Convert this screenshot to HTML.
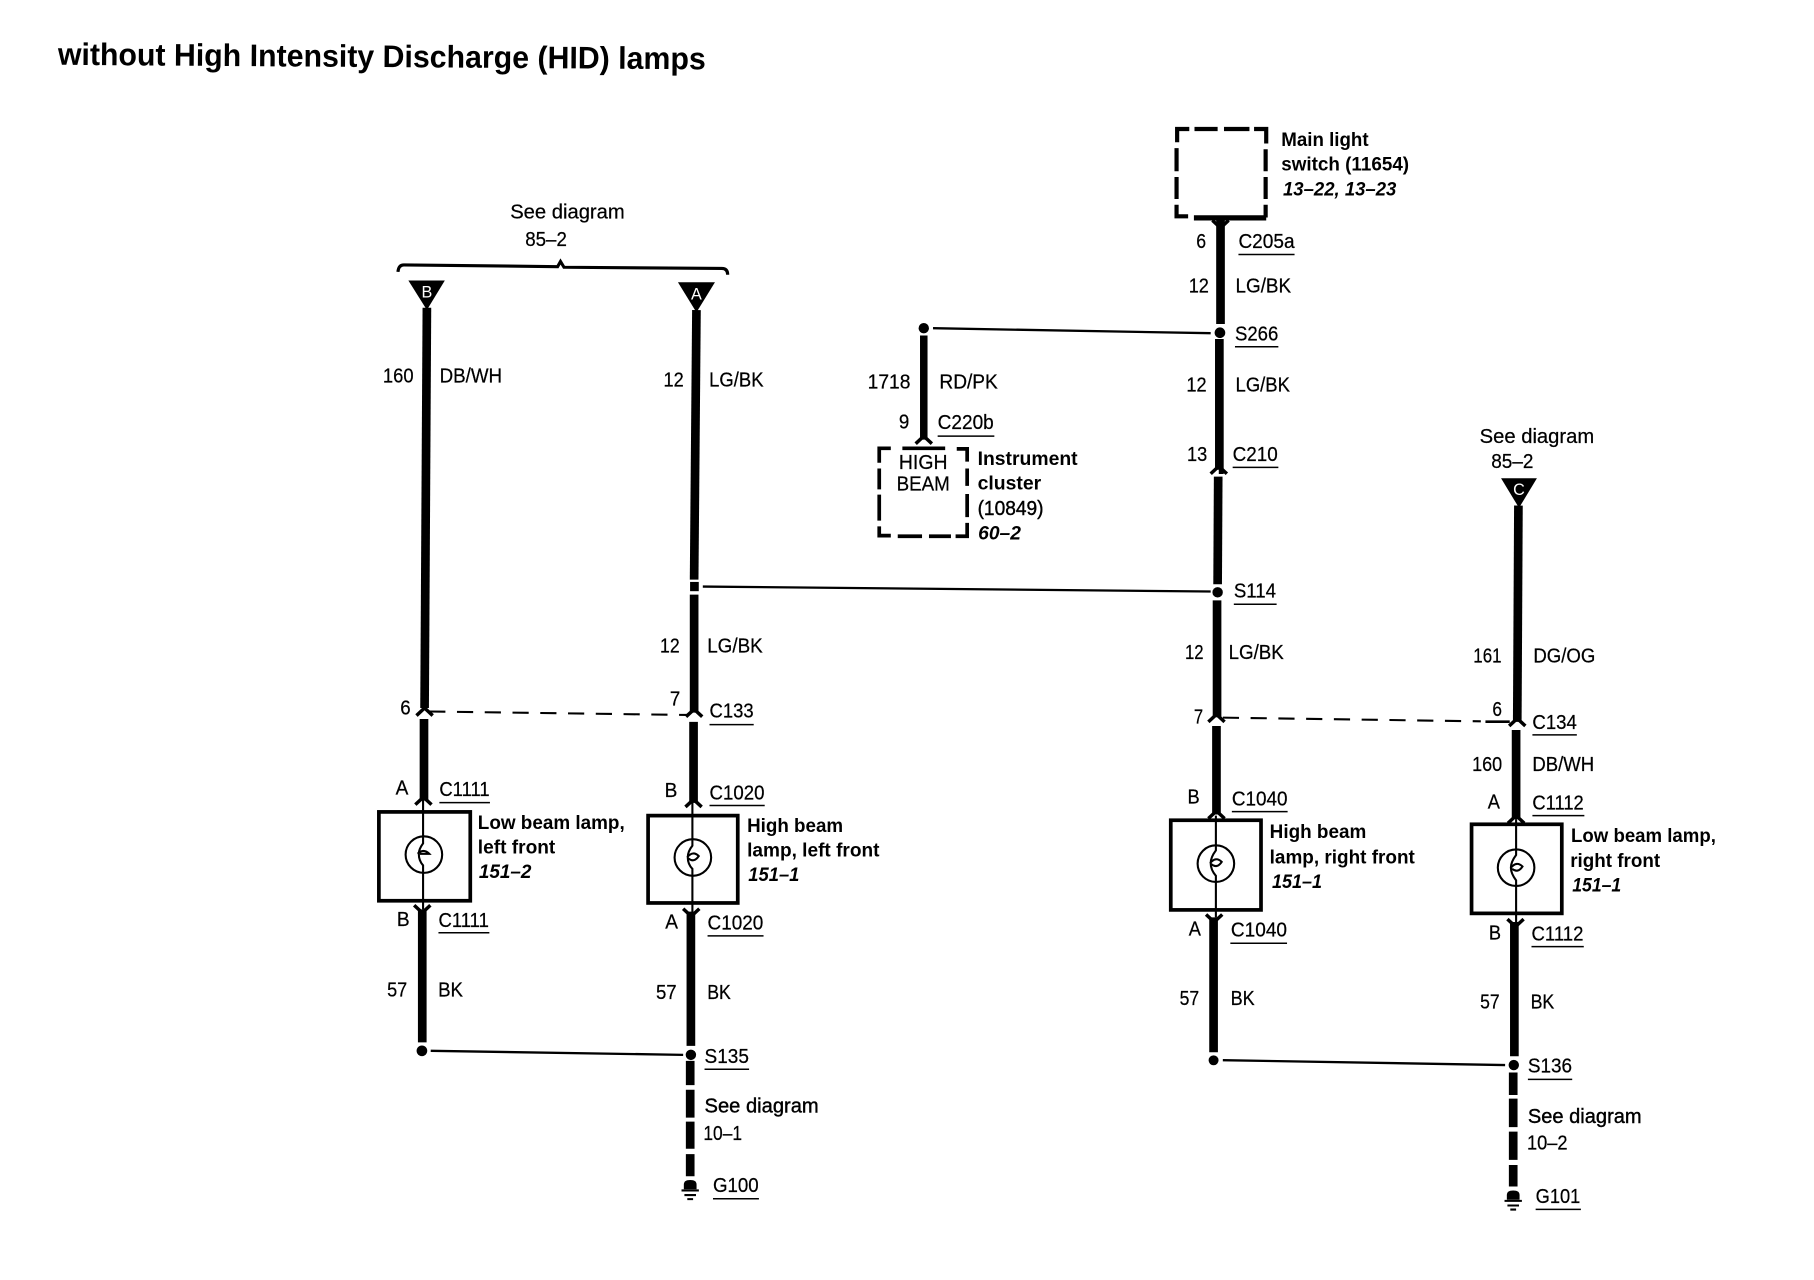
<!DOCTYPE html>
<html lang="en"><head><meta charset="utf-8"><title>without High Intensity Discharge (HID) lamps</title>
<style>
html,body{margin:0;padding:0;background:#fff}
svg{display:block}
text{font-family:"Liberation Sans",sans-serif;font-size:17.500px;fill:#000;stroke:#000;stroke-width:.2}
.b{font-weight:bold;font-size:17px;stroke-width:0}
.i{font-weight:bold;font-style:italic;font-size:17px;stroke-width:0}
.t{font-weight:bold;font-size:27px;stroke-width:0}
.w{fill:#fff;stroke:none;font-size:14px;text-anchor:middle}
.W{stroke:#000;stroke-width:7.500;fill:none}
.H{stroke:#000;stroke-width:2;fill:none}
.U{stroke:#000;stroke-width:1.300;fill:none}
.D{stroke:#000;stroke-width:3.200;fill:none}
.B{stroke:#000;stroke-width:3.200;fill:#fff}
.L{stroke:#000;stroke-width:1.800;fill:none}
.C{stroke:#000;stroke-width:3;fill:none}
</style></head><body>
<svg xmlns="http://www.w3.org/2000/svg" width="1814" height="1280" viewBox="0 0 1568 1106.400">
<defs>
<path id="up" class="C" d="M-7 7.500L0 1L7 7.500"/>
<path id="dn" class="C" d="M-7 -7.500L0 -1L7 -7.500"/>
<g id="gnd"><path d="M-5.500 8V4Q-5.500 0 0 0Q5.500 0 5.500 4V8Z"/><path class="L" d="M-7.500 9H7.500M-5 13H5M-2.500 16.500H2.500"/></g>
</defs>
<rect width="1568" height="1106.400" fill="#fff"/>

<!-- title -->
<text class="t" x="50" y="56" transform="rotate(0.4 50 56)" textLength="560" lengthAdjust="spacingAndGlyphs">without High Intensity Discharge (HID) lamps</text>

<!-- bracket left -->
<text x="441" y="189" textLength="99" lengthAdjust="spacingAndGlyphs">See diagram</text>
<text x="454" y="212.700" textLength="36" lengthAdjust="spacingAndGlyphs">85–2</text>
<path d="M344 235Q344.500 229 349 229L482 230.500L484.500 226L487.500 231L624 232Q629 232 629 237.500" fill="none" stroke="#000" stroke-width="2.700"/>
<polygon points="353,242.500 384.500,242.500 369,268"/><text class="w" x="369" y="257">B</text>
<polygon points="586,244 618,244 602,270"/><text class="w" x="602" y="259">A</text>

<!-- left wire B -->
<path class="W" d="M369 266L367 612"/><use href="#up" x="367" y="611"/>
<path class="W" d="M366.500 621.500V692"/><use href="#up" x="366" y="688"/>
<path class="W" d="M365 786V901"/><use href="#dn" x="365" y="790"/>
<circle cx="364.700" cy="908.300" r="4.600"/>
<text x="331" y="330.700" textLength="26.500" lengthAdjust="spacingAndGlyphs">160</text>
<text x="380" y="330.700" textLength="54" lengthAdjust="spacingAndGlyphs">DB/WH</text>
<text x="346" y="617.500" textLength="9" lengthAdjust="spacingAndGlyphs">6</text>
<text x="342" y="686.800" textLength="11" lengthAdjust="spacingAndGlyphs">A</text>
<text x="379.800" y="688" textLength="43.400" lengthAdjust="spacingAndGlyphs">C1111</text><path class="U" d="M379.800 693.800H423.500"/>
<text x="343" y="800.500" textLength="11" lengthAdjust="spacingAndGlyphs">B</text>
<text x="379" y="801.200" textLength="43.600" lengthAdjust="spacingAndGlyphs">C1111</text><path class="U" d="M379 806.200H423"/>
<text x="334.600" y="861.300" textLength="17.400" lengthAdjust="spacingAndGlyphs">57</text>
<text x="378.700" y="861.300" textLength="21.500" lengthAdjust="spacingAndGlyphs">BK</text>

<!-- lamp 1 -->
<rect class="B" x="327.500" y="701.800" width="79" height="76.800"/>
<circle class="L" cx="366.400" cy="738.700" r="15.800"/>
<path class="L" d="M365.700 690V729Q362 734 362 738Q362 744 365.700 748V786M361 738Q366 733 371 738H363"/>
<text class="b" x="413" y="716.400" textLength="127" lengthAdjust="spacingAndGlyphs">Low beam lamp,</text>
<text class="b" x="413" y="737.600" textLength="67" lengthAdjust="spacingAndGlyphs">left front</text>
<text class="i" x="413.900" y="759" textLength="45.500" lengthAdjust="spacingAndGlyphs">151–2</text>

<!-- wire A -->
<path class="W" d="M602 268L600 501"/>
<rect x="596.500" y="503" width="7.500" height="8"/>
<path class="W" d="M600 514V616"/><use href="#up" x="600" y="612"/>
<path class="W" d="M599.500 624V694"/><use href="#up" x="599.500" y="690"/>
<path class="W" d="M597.200 788V904"/><use href="#dn" x="597.500" y="793"/>
<circle cx="597.200" cy="911.800" r="4.500"/>
<path class="H" d="M607.500 507L1046.500 511.300"/>
<text x="573.500" y="334" textLength="17.500" lengthAdjust="spacingAndGlyphs">12</text>
<text x="613" y="334" textLength="47" lengthAdjust="spacingAndGlyphs">LG/BK</text>
<text x="570.500" y="563.800" textLength="17" lengthAdjust="spacingAndGlyphs">12</text>
<text x="611.300" y="563.800" textLength="48" lengthAdjust="spacingAndGlyphs">LG/BK</text>
<text x="579" y="610" textLength="9" lengthAdjust="spacingAndGlyphs">7</text>
<text x="613.300" y="620.300" textLength="38.100" lengthAdjust="spacingAndGlyphs">C133</text><path class="U" d="M613.300 626.300H651.500"/>
<text x="574.500" y="689" textLength="11" lengthAdjust="spacingAndGlyphs">B</text>
<text x="613.300" y="691" textLength="47.500" lengthAdjust="spacingAndGlyphs">C1020</text><path class="U" d="M613.300 696.300H661"/>
<text x="575" y="802.600" textLength="11" lengthAdjust="spacingAndGlyphs">A</text>
<text x="611.600" y="803.300" textLength="48.200" lengthAdjust="spacingAndGlyphs">C1020</text><path class="U" d="M611.600 809H660"/>
<text x="567" y="863.400" textLength="17.900" lengthAdjust="spacingAndGlyphs">57</text>
<text x="611.300" y="863.400" textLength="20.400" lengthAdjust="spacingAndGlyphs">BK</text>
<text x="609" y="918.900" textLength="38.400" lengthAdjust="spacingAndGlyphs">S135</text><path class="U" d="M609 924.200H647.500"/>
<text x="609" y="961.600" textLength="98.700" lengthAdjust="spacingAndGlyphs" style="stroke-width:.35">See diagram</text>
<text x="608" y="985.300" textLength="33.400" lengthAdjust="spacingAndGlyphs">10–1</text>
<text x="616.300" y="1030.200" textLength="39.500" lengthAdjust="spacingAndGlyphs">G100</text><path class="U" d="M616.300 1036.200H656"/>
<path class="W" d="M596.600 917V938M596.600 942V966M596.600 969.500V993M596.600 997.600V1016.700"/>
<use href="#gnd" x="596.600" y="1020"/>

<!-- dashed left -->
<path class="L" d="M371 615L594 618" stroke-dasharray="14 10"/>

<!-- lamp 2 -->
<rect class="B" x="560.200" y="705" width="77.500" height="75.500"/>
<circle class="L" cx="598.900" cy="741.200" r="15.800"/>
<path class="L" d="M598.500 692V731Q594.500 736 594.500 741Q594.500 747 598.500 751V790M594 741Q599 735 604 740Q600 746 595 742"/>
<text class="b" x="645.800" y="719.300" textLength="83" lengthAdjust="spacingAndGlyphs">High beam</text>
<text class="b" x="645.800" y="740.500" textLength="114.400" lengthAdjust="spacingAndGlyphs">lamp, left front</text>
<text class="i" x="646.800" y="761.600" textLength="44.200" lengthAdjust="spacingAndGlyphs">151–1</text>

<!-- instrument cluster -->
<circle cx="798.500" cy="283.700" r="4.500"/>
<path class="H" d="M806.500 283.700L1046.500 288"/>
<path class="W" d="M798.500 290V380" style="stroke-width:6.500"/><use href="#up" x="798.500" y="376"/>
<text x="750" y="335.700" textLength="37" lengthAdjust="spacingAndGlyphs">1718</text>
<text x="812" y="335.700" textLength="50.500" lengthAdjust="spacingAndGlyphs">RD/PK</text>
<text x="777" y="370.500" textLength="9" lengthAdjust="spacingAndGlyphs">9</text>
<text x="810.500" y="371" textLength="48.500" lengthAdjust="spacingAndGlyphs">C220b</text><path class="U" d="M810.500 377H859.500"/>
<path class="D" d="M770 387.500H760V400M760 405V423M760 427.500V450M760 455V463H770M776 463.500H797M803 463.500H822M826 463.500H836V452M836 447V427M836 420V405M836 399V388H827M817 387.500H780"/>
<text x="777" y="405.300" textLength="42" lengthAdjust="spacingAndGlyphs">HIGH</text>
<text x="775" y="424" textLength="46" lengthAdjust="spacingAndGlyphs">BEAM</text>
<text class="b" x="845" y="401.800" textLength="86.500" lengthAdjust="spacingAndGlyphs">Instrument</text>
<text class="b" x="845" y="423.300" textLength="55" lengthAdjust="spacingAndGlyphs">cluster</text>
<text x="845" y="445" textLength="57" lengthAdjust="spacingAndGlyphs" style="stroke-width:.35">(10849)</text>
<text class="i" x="845.500" y="466.400" textLength="37" lengthAdjust="spacingAndGlyphs">60–2</text>

<!-- main light switch -->
<path class="D" d="M1028 111.500H1017.500V123M1017 128V148M1017 153V172M1017 177V187H1027" style="stroke-width:3.600"/>
<path class="D" d="M1032.500 111.500H1052.500M1058 111.500H1080M1084 111.500H1094.500V124M1094 129V148M1094 153V172M1094 177V188" style="stroke-width:3.600"/>
<path d="M1032 188.300H1094.500" stroke="#000" stroke-width="4.500" fill="none"/>
<text class="b" x="1107.500" y="126" textLength="75.500" lengthAdjust="spacingAndGlyphs">Main light</text>
<text class="b" x="1107.500" y="147.300" textLength="110.500" lengthAdjust="spacingAndGlyphs">switch (11654)</text>
<text class="i" x="1109" y="169" textLength="98" lengthAdjust="spacingAndGlyphs">13–22, 13–23</text>

<!-- right column 3 -->
<path class="W" d="M1055 189V280"/><use href="#dn" x="1055" y="198"/>
<circle cx="1054.500" cy="287.600" r="4.600"/>
<path class="W" d="M1054 293V406L1053.500 406"/><use href="#up" x="1053.500" y="402"/>
<path class="W" d="M1053 412L1052.500 505"/>
<circle cx="1052.500" cy="512" r="4.500"/>
<path class="W" d="M1052 519V620"/><use href="#up" x="1051.500" y="616.500"/>
<path class="W" d="M1051.500 627.500V704"/><use href="#up" x="1051.500" y="700"/>
<path class="W" d="M1049 793V909.500"/><use href="#dn" x="1049.500" y="798"/>
<circle cx="1049" cy="916.500" r="4.300"/>
<path class="H" d="M1057 916.400L1301 920.600"/>
<text x="1034" y="214.500" textLength="8.500" lengthAdjust="spacingAndGlyphs">6</text>
<text x="1070.500" y="214.500" textLength="48.500" lengthAdjust="spacingAndGlyphs">C205a</text><path class="U" d="M1070.500 220H1119"/>
<text x="1027.500" y="252.700" textLength="17.500" lengthAdjust="spacingAndGlyphs">12</text>
<text x="1068" y="252.700" textLength="48" lengthAdjust="spacingAndGlyphs">LG/BK</text>
<text x="1067.500" y="294.300" textLength="37.500" lengthAdjust="spacingAndGlyphs">S266</text><path class="U" d="M1067.500 299.700H1105"/>
<text x="1025.500" y="338.500" textLength="17.500" lengthAdjust="spacingAndGlyphs">12</text>
<text x="1068" y="338.500" textLength="47" lengthAdjust="spacingAndGlyphs">LG/BK</text>
<text x="1026" y="398.600" textLength="17.500" lengthAdjust="spacingAndGlyphs">13</text>
<text x="1065.500" y="398.600" textLength="39" lengthAdjust="spacingAndGlyphs">C210</text><path class="U" d="M1065.500 404H1105"/>
<text x="1066.500" y="516.500" textLength="36.500" lengthAdjust="spacingAndGlyphs">S114</text><path class="U" d="M1066.500 522.300H1103.500"/>
<text x="1024.300" y="569.800" textLength="16.100" lengthAdjust="spacingAndGlyphs">12</text>
<text x="1062" y="569.800" textLength="47.700" lengthAdjust="spacingAndGlyphs">LG/BK</text>
<text x="1032" y="625.600" textLength="8" lengthAdjust="spacingAndGlyphs">7</text>
<text x="1026.500" y="694.500" textLength="10.500" lengthAdjust="spacingAndGlyphs">B</text>
<text x="1064.800" y="696.300" textLength="48.100" lengthAdjust="spacingAndGlyphs">C1040</text><path class="U" d="M1064.800 701.600H1113"/>
<text x="1027.500" y="808.600" textLength="10.500" lengthAdjust="spacingAndGlyphs">A</text>
<text x="1064" y="809.300" textLength="48.500" lengthAdjust="spacingAndGlyphs">C1040</text><path class="U" d="M1063.500 815.300H1112.500"/>
<text x="1019.600" y="868.700" textLength="16.900" lengthAdjust="spacingAndGlyphs">57</text>
<text x="1063.700" y="868.700" textLength="20.800" lengthAdjust="spacingAndGlyphs">BK</text>

<!-- dashed right -->
<path class="L" d="M1057 620.300L1280 623.500" stroke-dasharray="14 10"/>
<path class="L" d="M1284 623.800H1305" style="stroke-width:2.200"/>

<!-- lamp 3 -->
<rect class="B" x="1012" y="709" width="78" height="77.500"/>
<circle class="L" cx="1051" cy="746.500" r="15.800"/>
<path class="L" d="M1051 705V735Q1046.500 741 1046.500 746Q1046.500 752 1051 757V793M1046 746Q1051 740 1056 745Q1052 751 1047 747"/>
<text class="b" x="1097.500" y="724.500" textLength="83.500" lengthAdjust="spacingAndGlyphs">High beam</text>
<text class="b" x="1097.500" y="746.500" textLength="125.500" lengthAdjust="spacingAndGlyphs">lamp, right front</text>
<text class="i" x="1099.500" y="767.700" textLength="43.300" lengthAdjust="spacingAndGlyphs">151–1</text>

<!-- right column 4 -->
<text x="1279" y="383" textLength="99" lengthAdjust="spacingAndGlyphs">See diagram</text>
<text x="1289" y="404.600" textLength="36.500" lengthAdjust="spacingAndGlyphs">85–2</text>
<polygon points="1297.500,413.400 1328.500,413.400 1313,439"/><text class="w" x="1313" y="428">C</text>
<path class="W" d="M1312.500 437L1311.500 624"/><use href="#up" x="1311.500" y="620"/>
<path class="W" d="M1310.500 631V708"/><use href="#up" x="1310.500" y="704"/>
<path class="W" d="M1309 797V913"/><use href="#dn" x="1310" y="802"/>
<circle cx="1308.500" cy="920.600" r="4.500"/>
<path class="W" d="M1308 927V946.500M1308 949.600V974.300M1308 978.200V1002.600M1308 1007V1025.600"/>
<use href="#gnd" x="1308" y="1029"/>
<text x="1273.500" y="572.600" textLength="24.500" lengthAdjust="spacingAndGlyphs">161</text>
<text x="1325.400" y="572.600" textLength="53.600" lengthAdjust="spacingAndGlyphs">DG/OG</text>
<text x="1290" y="619" textLength="8.300" lengthAdjust="spacingAndGlyphs">6</text>
<text x="1324.600" y="630.200" textLength="38.400" lengthAdjust="spacingAndGlyphs">C134</text><path class="U" d="M1324.600 635.200H1363"/>
<text x="1272.500" y="666.300" textLength="26" lengthAdjust="spacingAndGlyphs">160</text>
<text x="1324.600" y="666.300" textLength="53.400" lengthAdjust="spacingAndGlyphs">DB/WH</text>
<text x="1286" y="698.800" textLength="10.500" lengthAdjust="spacingAndGlyphs">A</text>
<text x="1324.600" y="699.800" textLength="44.400" lengthAdjust="spacingAndGlyphs">C1112</text><path class="U" d="M1324.600 705H1369.500"/>
<text x="1287" y="812.200" textLength="10.500" lengthAdjust="spacingAndGlyphs">B</text>
<text x="1323.800" y="812.900" textLength="44.900" lengthAdjust="spacingAndGlyphs">C1112</text><path class="U" d="M1323.800 818.200H1369"/>
<text x="1279.400" y="871.900" textLength="16.900" lengthAdjust="spacingAndGlyphs">57</text>
<text x="1323" y="871.900" textLength="20.500" lengthAdjust="spacingAndGlyphs">BK</text>
<text x="1320.700" y="927" textLength="38.200" lengthAdjust="spacingAndGlyphs">S136</text><path class="U" d="M1320.700 933H1359"/>
<text x="1320.700" y="970.800" textLength="98.300" lengthAdjust="spacingAndGlyphs" style="stroke-width:.35">See diagram</text>
<text x="1319.900" y="993.800" textLength="35.100" lengthAdjust="spacingAndGlyphs">10–2</text>
<text x="1327.400" y="1040" textLength="38.600" lengthAdjust="spacingAndGlyphs">G101</text><path class="U" d="M1327.400 1045.400H1366.500"/>

<!-- lamp 4 -->
<rect class="B" x="1272" y="712.500" width="78" height="77"/>
<circle class="L" cx="1310.500" cy="750" r="15.800"/>
<path class="L" d="M1310.500 708V739Q1306 745 1306 750Q1306 755 1310.500 761V797M1306 750Q1311 744 1316 749Q1312 755 1307 751"/>
<text class="b" x="1358" y="728" textLength="125.200" lengthAdjust="spacingAndGlyphs">Low beam lamp,</text>
<text class="b" x="1357.300" y="749.300" textLength="77.700" lengthAdjust="spacingAndGlyphs">right front</text>
<text class="i" x="1359" y="770.500" textLength="42.400" lengthAdjust="spacingAndGlyphs">151–1</text>

<!-- S135 connecting line -->
<path class="H" d="M372.300 908.300L590.500 911.800"/>
</svg>
</body></html>
